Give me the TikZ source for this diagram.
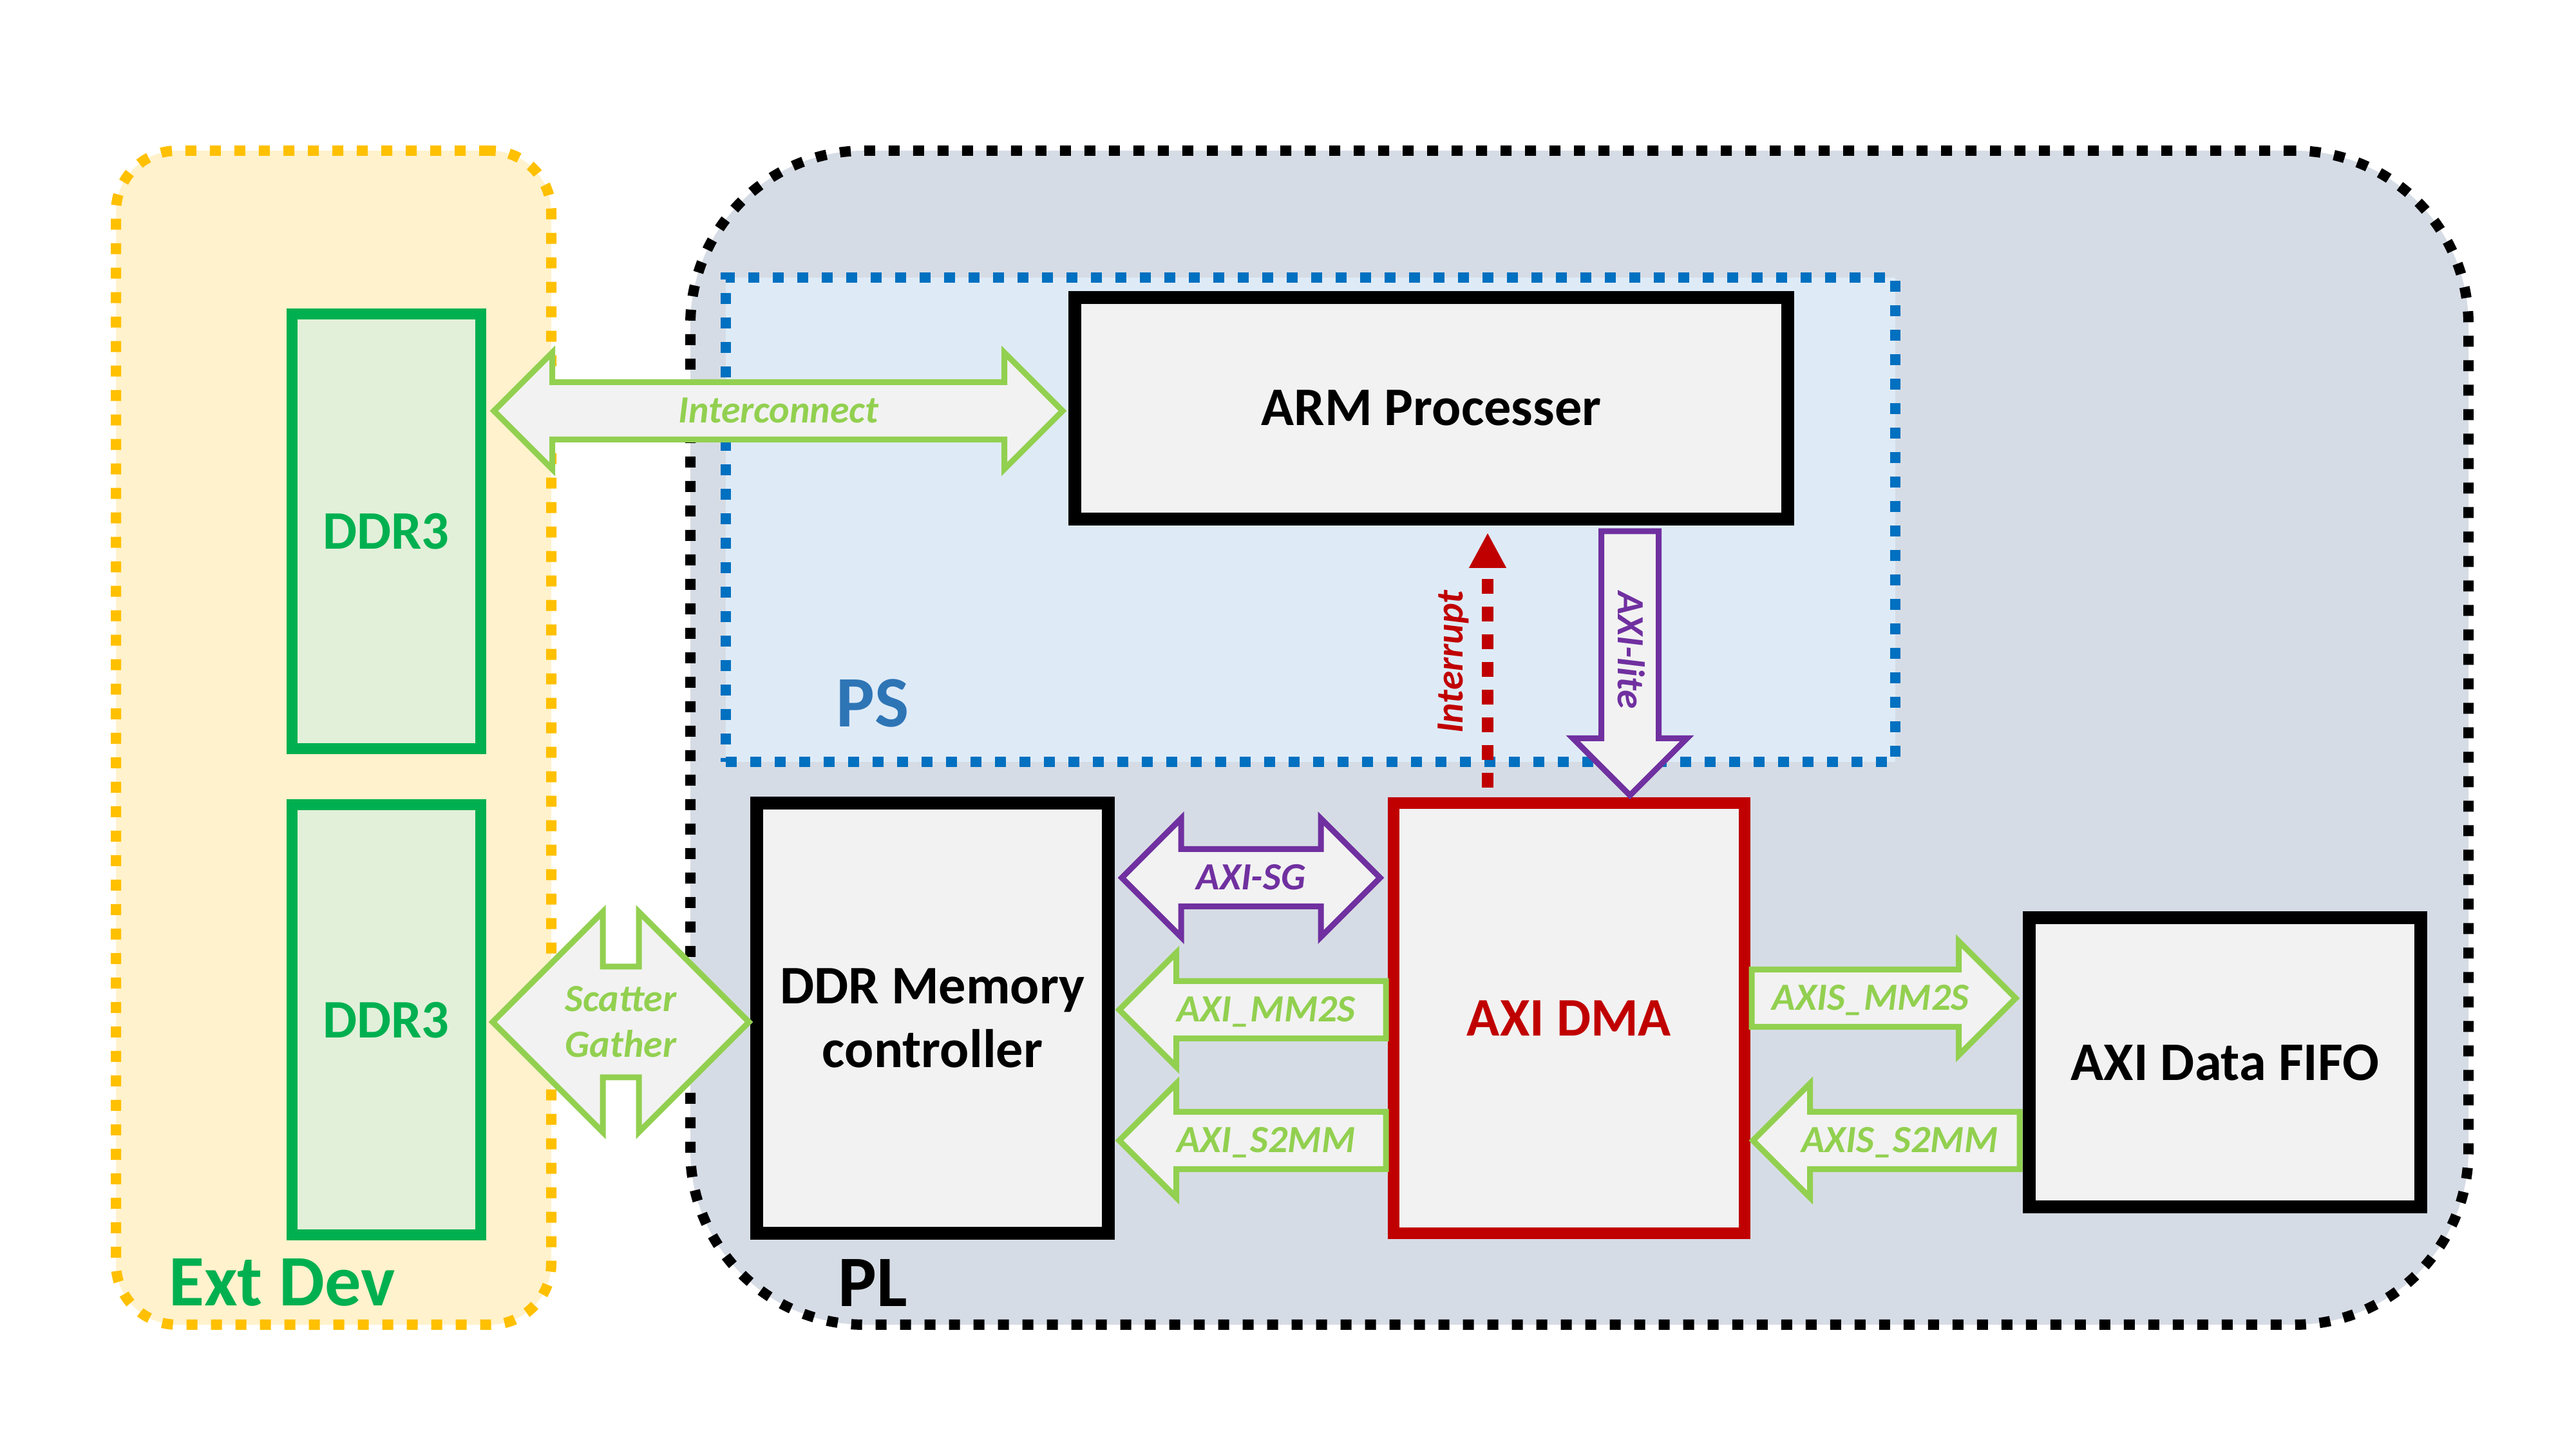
\documentclass[tikz,border=0pt]{standalone}
\usepackage{fontspec}
\setmainfont{Carlito}
\usetikzlibrary{shapes.arrows,arrows.meta,calc}

\definecolor{extfill}{HTML}{FFF2CC}
\definecolor{extline}{HTML}{FFC000}
\definecolor{plfill}{HTML}{D6DCE5}
\definecolor{psfill}{HTML}{DEEBF7}
\definecolor{psline}{HTML}{0070C0}
\definecolor{pstext}{HTML}{2E75B6}
\definecolor{ddrgreen}{HTML}{00B050}
\definecolor{ddrfill}{HTML}{E2F0D9}
\definecolor{busgreen}{HTML}{92D050}
\definecolor{boxgray}{HTML}{F2F2F2}
\definecolor{axipurple}{HTML}{7030A0}
\definecolor{dmared}{HTML}{C00000}

\tikzset{
  squaredot/.style={line width=0.16cm, dash pattern=on 0.17cm off 0.21cm},
  region/.style={rectangle, squaredot, inner sep=0pt},
  block/.style={rectangle, draw=black, line width=0.2cm, fill=boxgray, align=center,
                font=\fontsize{24}{28}\selectfont\bfseries},
  bus/.style={draw=busgreen, fill=boxgray, line width=0.09cm, inner sep=0pt, outer sep=0pt,
              text height=0.8cm, text depth=0pt},
  busright/.style={bus, single arrow, single arrow head extend=0.44cm, anchor=tail},
  busboth/.style={bus, double arrow, double arrow head extend=0.47cm},
  buslabel/.style={inner sep=0pt, text height=0.38cm, text depth=0pt,
                   font=\fontsize{17}{20}\selectfont\bfseries\itshape},
  title/.style={inner sep=0pt, font=\fontsize{32}{36}\selectfont\bfseries},
  irq/.style={draw=dmared, line width=0.18cm, dash pattern=on 0.23cm off 0.2cm,
              -{Triangle[length=0.55cm, width=0.54cm]}}
}

\begin{document}
\begin{tikzpicture}
\useasboundingbox (0,0) rectangle (40,22.5);

% regions
\node[region, draw=extline, fill=extfill, rounded corners=0.95cm,
      minimum width=6.76cm, minimum height=18.23cm] (extdev) at (5.18,11.045) {};
\node[region, draw=black, fill=plfill, rounded corners=2.7cm,
      minimum width=27.61cm, minimum height=18.23cm] (pl) at (24.525,11.045) {};
\node[region, draw=psline, fill=psfill,
      minimum width=18.16cm, minimum height=7.52cm] (ps) at (20.35,14.43) {};

\node[title, text=ddrgreen] at (4.38,2.59) {Ext Dev};
\node[title, text=black] at (13.55,2.58) {PL};
\node[title, text=pstext] at (13.55,11.58) {PS};

% blocks
\begin{scope}[every node/.append style={block}]
    \node (ddrtop)[draw=ddrgreen, fill=ddrfill, text=ddrgreen, line width=0.17cm,
          minimum width=2.93cm, minimum height=6.75cm] at (5.995,14.245) {DDR3};
    \node (ddrbot)[draw=ddrgreen, fill=ddrfill, text=ddrgreen, line width=0.17cm,
          minimum width=2.93cm, minimum height=6.68cm] at (5.995,6.66) {DDR3};
    \node (arm)[minimum width=11.07cm, minimum height=3.44cm] at (22.225,16.16) {ARM Processer};
    \node (memctl)[minimum width=5.46cm, minimum height=6.68cm] at (14.48,6.69) {DDR Memory\\controller};
    \node (dma)[draw=dmared, text=dmared, line width=0.18cm,
          minimum width=5.45cm, minimum height=6.68cm] at (24.365,6.69) {AXI DMA};
    \node (fifo)[minimum width=6.08cm, minimum height=4.49cm] at (34.55,6.0) {AXI Data FIFO};
\end{scope}

% buses
\node (ic)[busboth, double arrow head extend=0.46cm, minimum height=8.83cm] at (12.085,16.12) {};
\node (sg)[busboth, text height=1.63cm, double arrow head extend=0.85cm,
      minimum height=3.98cm] at (9.64,6.63) {};
\node (axisg)[busboth, draw=axipurple, double arrow head extend=0.475cm,
      minimum height=4.01cm] at (19.425,8.87) {};
\node (mm2s)[busright, rotate=180, minimum height=4.14cm] at (21.52,6.82) {};
\node (s2mm)[busright, rotate=180, minimum height=4.14cm] at (21.52,4.79) {};
\node (axismm2s)[busright, minimum height=4.10cm] at (27.20,7.00) {};
\node (axiss2mm)[busright, rotate=180, minimum height=4.14cm] at (31.36,4.79) {};
\node (axilite)[busright, draw=axipurple, rotate=-90, minimum height=4.10cm] at (25.31,14.25) {};

\begin{scope}[every node/.append style={buslabel, text=busgreen}]
    \node at (ic.center) {Interconnect};
    \node at ($(sg.center)+(0,0.355)$) {Scatter};
    \node at ($(sg.center)+(0,-0.355)$) {Gather};
    \node at ($(mm2s.tail)!0.45!(mm2s.tip)$) {AXI\_MM2S};
    \node at ($(s2mm.tail)!0.45!(s2mm.tip)$) {AXI\_S2MM};
    \node at ($(axismm2s.tail)!0.45!(axismm2s.tip)$) {AXIS\_MM2S};
    \node at ($(axiss2mm.tail)!0.45!(axiss2mm.tip)$) {AXIS\_S2MM};
    \node[text=axipurple] at (axisg.center) {AXI-SG};
    \node[text=axipurple, rotate=-90] at ($(axilite.tail)!0.45!(axilite.tip)$) {AXI-lite};
\end{scope}

% interrupt
\coordinate (irqx) at (23.10,0);
\draw[irq, shorten <=0.15cm, shorten >=0.11cm] (dma.north -| irqx) -- (arm.south -| irqx);
\node[buslabel, text=dmared, rotate=90] at (22.52,12.22) {Interrupt};

\end{tikzpicture}
\end{document}
